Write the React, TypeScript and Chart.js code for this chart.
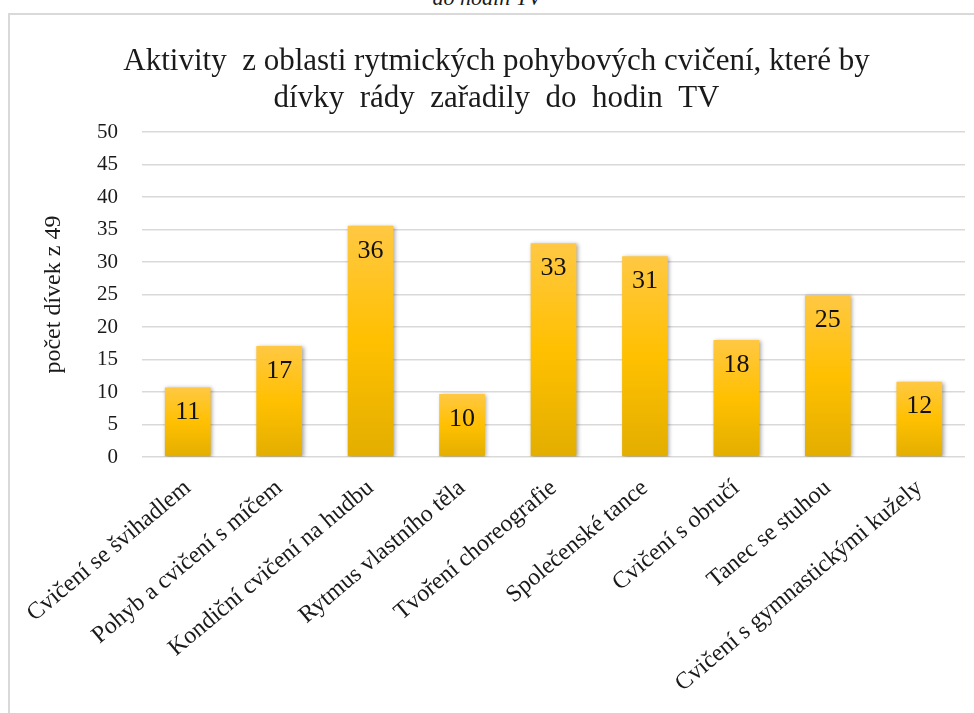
import React, { useEffect, useRef } from "react";
import { Chart, registerables } from "chart.js";

Chart.register(...registerables);

const categories = [
  "Cvičení se švihadlem",
  "Pohyb a cvičení s míčem",
  "Kondiční cvičení na hudbu",
  "Rytmus vlastního těla",
  "Tvoření choreografie",
  "Společenské tance",
  "Cvičení s obručí",
  "Tanec se stuhou",
  "Cvičení s gymnastickými kužely",
];
const values = [10.7, 17.1, 35.6, 9.7, 32.9, 30.9, 18.0, 24.9, 11.6];
const yMin = 0;
const yMax = 50;
const yStep = 5;
const titleLines = [
  "Aktivity  z oblasti rytmických pohybových cvičení, které by",
  "dívky  rády  zařadily  do  hodin  TV",
];
const yAxisTitle = "počet dívek z 49";
const topCaption = "do hodin TV";

const FONT = '"Liberation Serif", "Times New Roman", serif';

export default function App() {
  const ref = useRef<HTMLCanvasElement | null>(null);

  useEffect(() => {
    if (!ref.current) return;

    const shadowPlugin = {
      id: "barShadow",
      beforeDatasetsDraw(chart: any) {
        const c = chart.ctx;
        c.save();
        c.shadowColor = "rgba(0,0,0,0.35)";
        c.shadowBlur = 4;
        c.shadowOffsetX = 1.5;
        c.shadowOffsetY = 1;
      },
      afterDatasetsDraw(chart: any) {
        chart.ctx.restore();
      },
    };

    const labelPlugin = {
      id: "barLabels",
      afterDatasetsDraw(chart: any) {
        const c = chart.ctx;
        const meta = chart.getDatasetMeta(0);
        c.save();
        c.font = `26px ${FONT}`;
        c.fillStyle = "#111111";
        c.textAlign = "center";
        c.textBaseline = "middle";
        meta.data.forEach((bar: any, i: number) => {
          c.fillText(String(Math.round(values[i])), bar.x, bar.y + 25);
        });
        c.restore();
      },
    };

    const chart = new Chart(ref.current, {
      type: "bar",
      data: {
        labels: categories,
        datasets: [
          {
            data: values,
            barPercentage: 0.5,
            categoryPercentage: 1,
            borderWidth: 0,
            backgroundColor: (ctx: any) => {
              const ch = ctx.chart;
              const y = ch.scales && ch.scales.y;
              const v = ctx.raw;
              if (!y || typeof v !== "number") return "#FFC000";
              const top = y.getPixelForValue(v);
              const bot = y.getPixelForValue(0);
              if (!isFinite(top) || !isFinite(bot) || top === bot) return "#FFC000";
              const g = ch.ctx.createLinearGradient(0, top, 0, bot);
              g.addColorStop(0, "#FFC843");
              g.addColorStop(0.5, "#FFC000");
              g.addColorStop(1, "#E3AE00");
              return g;
            },
          },
        ],
      },
      options: {
        animation: false,
        responsive: false,
        devicePixelRatio: 1,
        layout: { padding: { left: 28, right: 9, top: 0, bottom: 0 } },
        plugins: {
          legend: { display: false },
          tooltip: { enabled: false },
          title: {
            display: true,
            text: titleLines,
            color: "#1a1a1a",
            font: { family: FONT, size: 31, weight: "normal", lineHeight: 1.18 },
            padding: { top: 44, bottom: 15 },
          },
        },
        scales: {
          x: {
            grid: { display: false },
            border: { display: false },
            ticks: {
              autoSkip: false,
              minRotation: 40,
              maxRotation: 40,
              padding: 9,
              color: "#1a1a1a",
              font: { family: FONT, size: 24 },
            },
            afterFit: (s: any) => {
              s.height = 256;
            },
          },
          y: {
            min: yMin,
            max: yMax,
            ticks: {
              stepSize: yStep,
              padding: 24,
              color: "#1a1a1a",
              font: { family: FONT, size: 21 },
            },
            grid: { color: "#d9d9d9", lineWidth: 1.5, drawTicks: false },
            border: { display: false },
            title: {
              display: true,
              text: yAxisTitle,
              color: "#1a1a1a",
              font: { family: FONT, size: 24 },
              padding: { top: 11, bottom: 0 },
            },
            afterFit: (s: any) => {
              s.width = 114;
            },
          },
        },
      },
      plugins: [shadowPlugin, labelPlugin],
    } as any);

    return () => chart.destroy();
  }, []);

  return (
    <div
      style={{
        position: "absolute",
        left: 0,
        top: 0,
        width: 974,
        height: 713,
        overflow: "hidden",
        background: "#ffffff",
      }}
    >
      <div
        style={{
          position: "absolute",
          top: -15,
          left: 0,
          width: 974,
          textAlign: "center",
          fontFamily: FONT,
          fontStyle: "italic",
          fontSize: 22,
          color: "#1a1a1a",
        }}
      >
        {topCaption}
      </div>
      <div
        style={{
          position: "absolute",
          left: 8,
          top: 13,
          width: 1100,
          height: 1000,
          border: "2px solid #d9d9d9",
        }}
      />
      <canvas
        ref={ref}
        width={974}
        height={713}
        style={{ position: "absolute", left: 0, top: 0, width: 974, height: 713, display: "block" }}
      />
    </div>
  );
}
